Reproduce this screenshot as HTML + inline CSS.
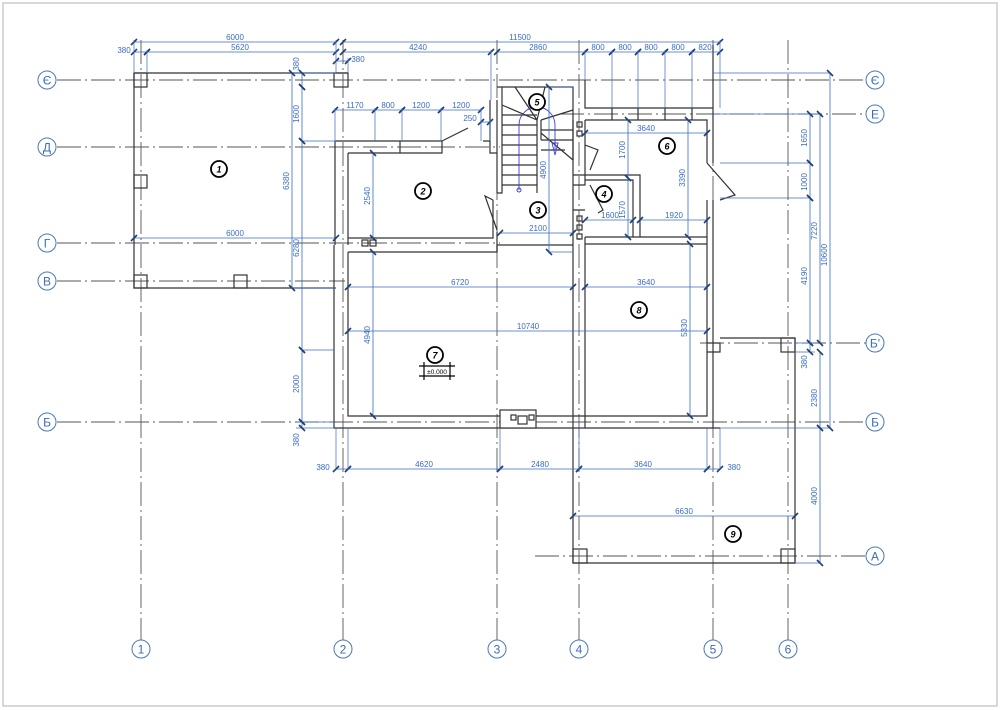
<!DOCTYPE html>
<html><head><meta charset="utf-8"><style>
html,body{margin:0;padding:0;background:#fff;}
svg{display:block;}
.ax{stroke:#555;stroke-width:0.9;stroke-dasharray:24 4 2 4;fill:none}
.w{stroke:#333;stroke-width:1.2;fill:none}
.d{stroke:#3b6cc4;stroke-width:0.8;fill:none;marker-start:url(#t);marker-end:url(#t)}
.e{stroke:#3b6cc4;stroke-width:0.7;fill:none}
.dt{font-family:"Liberation Sans",sans-serif;font-size:8px;fill:#3b6cc4;text-anchor:middle}
.ac{fill:#fff;stroke:#4a78b8;stroke-width:1}
.at{font-family:"Liberation Sans","DejaVu Sans",sans-serif;font-size:12px;fill:#3b6cc4;text-anchor:middle}
.rc{fill:#fff;stroke:#000;stroke-width:1.8}
.rt{font-family:"Liberation Sans",sans-serif;font-size:9px;font-weight:bold;font-style:italic;text-anchor:middle;fill:#000}
</style></head><body>
<svg width="1000" height="710" viewBox="0 0 1000 710" xmlns="http://www.w3.org/2000/svg">
<defs>
<marker id="t" markerUnits="userSpaceOnUse" markerWidth="10" markerHeight="10" refX="5" refY="5" orient="auto">
<path d="M2,8 L8,2" stroke="#1f3f7a" stroke-width="1.6"/>
</marker>
</defs>
<rect x="3" y="3" width="994" height="703" fill="#fff" stroke="#ccc" stroke-width="1.5"/>

<!-- axes vertical -->
<g class="ax">
<path d="M141,40V640M343,40V640M497,40V640M579,40V640M713,40V640M788,40V640"/>
<path d="M57,80H866M560,114H866M57,147H500M57,243H500M57,281H345M700,343H866M57,422H866M535,556H866"/>
</g>
<g>
<circle class="ac" cx="141" cy="649" r="9"/><text class="at" x="141" y="653.5">1</text>
<circle class="ac" cx="343" cy="649" r="9"/><text class="at" x="343" y="653.5">2</text>
<circle class="ac" cx="497" cy="649" r="9"/><text class="at" x="497" y="653.5">3</text>
<circle class="ac" cx="579" cy="649" r="9"/><text class="at" x="579" y="653.5">4</text>
<circle class="ac" cx="713" cy="649" r="9"/><text class="at" x="713" y="653.5">5</text>
<circle class="ac" cx="788" cy="649" r="9"/><text class="at" x="788" y="653.5">6</text>
<circle class="ac" cx="47" cy="80" r="9"/><text class="at" x="47" y="84.5">Є</text>
<circle class="ac" cx="47" cy="147" r="9"/><text class="at" x="47" y="151.5">Д</text>
<circle class="ac" cx="47" cy="243" r="9"/><text class="at" x="47" y="247.5">Г</text>
<circle class="ac" cx="47" cy="281" r="9"/><text class="at" x="47" y="285.5">В</text>
<circle class="ac" cx="47" cy="422" r="9"/><text class="at" x="47" y="426.5">Б</text>
<circle class="ac" cx="875" cy="80" r="9"/><text class="at" x="875" y="84.5">Є</text>
<circle class="ac" cx="875" cy="114" r="9"/><text class="at" x="875" y="118.5">Е</text>
<circle class="ac" cx="875" cy="343" r="9"/><text class="at" x="875" y="347.5">Б'</text>
<circle class="ac" cx="875" cy="422" r="9"/><text class="at" x="875" y="426.5">Б</text>
<circle class="ac" cx="875" cy="556" r="9"/><text class="at" x="875" y="560.5">А</text>
</g>

<!-- walls -->
<g class="w">
<!-- terrace 1 -->
<path d="M134,73H348M134,73V288H336"/>
<rect x="134" y="73" width="13" height="14"/><rect x="334" y="73" width="14" height="14"/>
<rect x="134" y="175" width="13" height="13"/><rect x="134" y="275" width="13" height="13"/><rect x="234" y="275" width="13" height="13"/>
<!-- room 2 -->
<path d="M335,141H400M400,141V153M442,141H400M442,141L468,128M483,141H490V100M335,141V245"/>
<path d="M348,153H400M400,153H442V141M442,153V141"/>
<path d="M348,153V238H493V200M348,238V245"/>
<path d="M490,141V153H497M497,100V193M493,200L485,196L497,230M497,232V252"/>
<rect x="362" y="240" width="6" height="6"/><rect x="370" y="240" width="6" height="6"/>
<!-- stairs -->
<path d="M497,87H573V160M502,87V193H497M573,160L541,133"/>
<path d="M537,120V193M541,120V140"/>
<path d="M502,115H537M502,125H537M502,135H537M502,145H537M502,155H537M502,165H537M502,175H537M502,185H537"/>
<path d="M502,105L537,120M515,87L537,120M545,87L537,120M573,110L541,120M541,130H573M541,140H573M541,150H565"/>
<!-- column 4 strip -->
<path d="M573,120V428M585,120V175M585,237V428M573,175H585V185H573M573,210H585"/>
<rect x="577" y="122" width="5" height="5"/><rect x="577" y="131" width="5" height="5"/>
<rect x="577" y="216" width="5" height="5"/><rect x="577" y="225" width="5" height="5"/><rect x="577" y="234" width="5" height="5"/>
<!-- room 6 / 4 -->
<path d="M585,80V108H713M585,120H707V163M707,200V237H585M713,45V163M713,200V428"/>
<path d="M585,175H640V237M585,180H633V237"/>
<path d="M707,163L735,195L720,200M585,145L598,150L590,170M590,185L603,210L598,213"/>
<path d="M612,108V120M638,108V120M665,108V120M692,108V120"/>
<!-- main hall -->
<path d="M334,245V428H720M348,252V416H707V237M497,245H573M348,252H497V245M585,244H707"/>
<rect x="500" y="410" width="36" height="18" fill="#fff"/>
<rect x="511" y="415" width="5" height="5"/><rect x="518" y="416" width="9" height="8"/><rect x="529" y="415" width="5" height="5"/>
<!-- extension / terrace 9 -->
<path d="M720,338H795V563H573V428M707,343H720V352H707"/>
<rect x="781" y="338" width="14" height="14"/>
<rect x="573" y="549" width="14" height="14"/><rect x="781" y="549" width="14" height="14"/>
</g>
<!-- stair path -->
<path d="M519,190V125A18,18 0 0 1 555,125V150" stroke="#4040d0" stroke-width="0.9" fill="none"/>
<circle cx="519" cy="190" r="2" fill="none" stroke="#4040d0"/>
<path d="M552,143L558,143L555,155Z" fill="none" stroke="#4040d0" stroke-width="0.9"/>

<!-- dimensions horizontal -->
<g>
<path class="d" d="M134,42H336"/><text class="dt" x="235" y="40">6000</text>
<path class="d" d="M343,42H720"/><text class="dt" x="520" y="40">11500</text>
<path class="d" d="M134,52H147"/><text class="dt" x="124" y="53">380</text>
<path class="d" d="M147,52H336"/><text class="dt" x="240" y="50">5620</text>
<path class="d" d="M343,52H491"/><text class="dt" x="418" y="50">4240</text>
<path class="d" d="M497,52H585"/><text class="dt" x="538" y="50">2860</text>
<path class="d" d="M585,52H612"/><text class="dt" x="598" y="50">800</text>
<path class="d" d="M612,52H638"/><text class="dt" x="625" y="50">800</text>
<path class="d" d="M638,52H665"/><text class="dt" x="651" y="50">800</text>
<path class="d" d="M665,52H692"/><text class="dt" x="678" y="50">800</text>
<path class="d" d="M692,52H720"/><text class="dt" x="705" y="50">820</text>
<path class="d" d="M336,61H348"/><text class="dt" x="358" y="62">380</text>
<path class="d" d="M335,110H375"/><text class="dt" x="355" y="108">1170</text>
<path class="d" d="M375,110H402"/><text class="dt" x="388" y="108">800</text>
<path class="d" d="M402,110H441"/><text class="dt" x="421" y="108">1200</text>
<path class="d" d="M441,110H481"/><text class="dt" x="461" y="108">1200</text>
<path class="d" d="M481,122H490"/><text class="dt" x="470" y="121">250</text>
<path class="d" d="M585,133H707"/><text class="dt" x="646" y="131">3640</text>
<path class="d" d="M585,220H633"/><text class="dt" x="610" y="218">1600</text>
<path class="d" d="M640,220H707"/><text class="dt" x="674" y="218">1920</text>
<path class="d" d="M500,233H573"/><text class="dt" x="538" y="231">2100</text>
<path class="d" d="M134,238H336"/><text class="dt" x="235" y="236">6000</text>
<path class="d" d="M348,287H573"/><text class="dt" x="460" y="285">6720</text>
<path class="d" d="M585,287H707"/><text class="dt" x="646" y="285">3640</text>
<path class="d" d="M348,331H707"/><text class="dt" x="528" y="329">10740</text>
<path class="d" d="M336,469H348"/><text class="dt" x="323" y="470">380</text>
<path class="d" d="M348,469H500"/><text class="dt" x="424" y="467">4620</text>
<path class="d" d="M500,469H579"/><text class="dt" x="540" y="467">2480</text>
<path class="d" d="M579,469H707"/><text class="dt" x="643" y="467">3640</text>
<path class="d" d="M707,469H720"/><text class="dt" x="734" y="470">380</text>
<path class="d" d="M573,516H795"/><text class="dt" x="684" y="514">6630</text>
</g>
<!-- extension lines -->
<g class="e">
<path d="M134,40V73M336,40V73M147,50V73M348,58V73M491,50V100M585,50V80M612,50V108M638,50V108M665,50V108M692,50V108M720,40V108"/>
<path d="M335,108V141M375,108V141M402,108V141M441,108V141M481,108V141M490,120V141"/>
<path d="M292,73H336M292,288H336M302,141H336M302,350H334M296,422H334M296,428H334"/>
<path d="M336,469V428M348,469V428M500,469V428M579,469V428M707,469V428M720,469V428"/>
<path d="M720,163H810M720,198H810M795,343H815M795,352H815M720,428H830M795,563H820M713,73H830M713,114H820"/>
<path d="M549,87H573M549,252H573"/>
</g>
<!-- dimensions vertical -->
<g>
<path class="d" d="M302,73V87"/><text class="dt" transform="translate(299,64) rotate(-90)">380</text>
<path class="d" d="M302,87V141"/><text class="dt" transform="translate(299,114) rotate(-90)">1600</text>
<path class="d" d="M292,73V288"/><text class="dt" transform="translate(289,181) rotate(-90)">6380</text>
<path class="d" d="M302,141V350"/><text class="dt" transform="translate(299,248) rotate(-90)">6280</text>
<path class="d" d="M302,350V422"/><text class="dt" transform="translate(299,384) rotate(-90)">2000</text>
<path class="d" d="M302,422V428"/><text class="dt" transform="translate(299,440) rotate(-90)">380</text>
<path class="d" d="M373,153V238"/><text class="dt" transform="translate(370,196) rotate(-90)">2540</text>
<path class="d" d="M373,252V416"/><text class="dt" transform="translate(370,335) rotate(-90)">4940</text>
<path class="d" d="M549,87V252"/><text class="dt" transform="translate(546,170) rotate(-90)">4900</text>
<path class="d" d="M628,120V178"/><text class="dt" transform="translate(625,150) rotate(-90)">1700</text>
<path class="d" d="M628,178V237"/><text class="dt" transform="translate(625,210) rotate(-90)">1570</text>
<path class="d" d="M688,120V237"/><text class="dt" transform="translate(685,178) rotate(-90)">3390</text>
<path class="d" d="M690,244V416"/><text class="dt" transform="translate(687,328) rotate(-90)">5330</text>
<path class="d" d="M810,114V163"/><text class="dt" transform="translate(807,138) rotate(-90)">1650</text>
<path class="d" d="M810,163V198"/><text class="dt" transform="translate(807,182) rotate(-90)">1000</text>
<path class="d" d="M810,198V343"/><text class="dt" transform="translate(807,276) rotate(-90)">4190</text>
<path class="d" d="M810,343V352"/><text class="dt" transform="translate(807,362) rotate(-90)">380</text>
<path class="d" d="M820,114V343"/><text class="dt" transform="translate(817,231) rotate(-90)">7220</text>
<path class="d" d="M820,352V428"/><text class="dt" transform="translate(817,398) rotate(-90)">2380</text>
<path class="d" d="M830,73V428"/><text class="dt" transform="translate(827,255) rotate(-90)">10600</text>
<path class="d" d="M820,428V563"/><text class="dt" transform="translate(817,496) rotate(-90)">4000</text>
</g>

<!-- room labels -->
<g>
<circle class="rc" cx="219" cy="169" r="8"/><text class="rt" x="219" y="172.5">1</text>
<circle class="rc" cx="423" cy="191" r="8"/><text class="rt" x="423" y="194.5">2</text>
<circle class="rc" cx="538" cy="210" r="8"/><text class="rt" x="538" y="213.5">3</text>
<circle class="rc" cx="604" cy="194" r="8"/><text class="rt" x="604" y="197.5">4</text>
<circle class="rc" cx="537" cy="102" r="8"/><text class="rt" x="537" y="105.5">5</text>
<circle class="rc" cx="667" cy="146" r="8"/><text class="rt" x="667" y="149.5">6</text>
<circle class="rc" cx="435" cy="355" r="8"/><text class="rt" x="435" y="358.5">7</text>
<circle class="rc" cx="639" cy="310" r="8"/><text class="rt" x="639" y="313.5">8</text>
<circle class="rc" cx="733" cy="534" r="8"/><text class="rt" x="733" y="537.5">9</text>
</g>
<!-- level mark -->
<path d="M419,366H455M419,376H455M424,362V380M450,362V380" stroke="#000" stroke-width="1.2"/>
<text x="437" y="374" font-family="Liberation Sans,sans-serif" font-size="6.5" text-anchor="middle">±0.000</text>
</svg>
</body></html>
